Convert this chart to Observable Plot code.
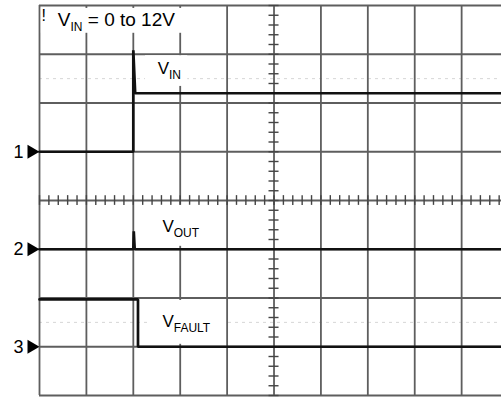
<!DOCTYPE html>
<html>
<head>
<meta charset="utf-8">
<script src="https://cdn.jsdelivr.net/npm/d3@7"></script>
<script src="https://cdn.jsdelivr.net/npm/@observablehq/plot@0.6"></script>
<style>
  html, body { margin: 0; padding: 0; background: #fff; overflow: hidden; }
  #chart svg { display: block; }
</style>
</head>
<body>
<div id="chart"></div>
<script>
// Scope screen: 10 horizontal divisions (the last one runs off the right edge), 8 vertical ones.
const timeEnd = 9.85;

// Channel setup: ground marker level (divisions from centre) and sensitivity (V/div)
const channelNames = ["1", "2", "3"];
const channelGround = [1, -1, -3];
const channelVoltsPerDiv = [10, 10, 5];

// CH1: V_IN stepped from 0 to 12V at the trigger, with an inrush spike on the edge
const vinTime  = [0, 2.0, 2.0, 2.04, 9.85];
const vinVolts = [0, 0, 20.8, 12, 12];
// CH2: V_OUT stays off apart from a short glitch at the step
const voutTime  = [0, 2.0, 2.01, 2.03, 9.85];
const voutVolts = [0, 0, 3.7, 0, 0];
// CH3: V_FAULT pulled low just after the step
const vfaultTime  = [0, 2.1, 2.1, 9.85];
const vfaultVolts = [4.85, 4.85, 0, 0];

// Heading annotation and trace labels ("_{...}" marks a subscript); anchored at the baseline start
const headingText = "V_{IN} = 0 to 12V";
const headingTime = 0.39;
const headingLevel = 3.57;
const traceLabelText  = ["V_{IN}", "V_{OUT}", "V_{FAULT}"];
const traceLabelTime  = [2.52, 2.62, 2.62];
const traceLabelLevel = [2.585, -0.656, -2.605];
// White backing boxes behind the annotations (time/level extents, in divisions)
const boxTime1  = [0.04, 2.26, 2.32, 2.32];
const boxTime2  = [3.2, 3.16, 3.56, 3.95];
const boxLevel1 = [3.94, 2.97, -0.10, -2.05];
const boxLevel2 = [3.43, 2.34, -0.94, -2.95];

// ---- build tables from the arrays ----
const traces = [
  {name: "VIN", ch: 0, t: vinTime, v: vinVolts},
  {name: "VOUT", ch: 1, t: voutTime, v: voutVolts},
  {name: "VFAULT", ch: 2, t: vfaultTime, v: vfaultVolts}
].flatMap(s => s.t.map((t, i) => ({
  name: s.name,
  t,
  div: channelGround[s.ch] + s.v[i] / channelVoltsPerDiv[s.ch]
})));

const channels = channelNames.map((name, i) => ({name, level: channelGround[i]}));
const heading = [{text: headingText, t: headingTime, level: headingLevel}];
const traceLabels = traceLabelText.map((text, i) => ({text, t: traceLabelTime[i], level: traceLabelLevel[i]}));
const boxes = boxTime1.map((x1, i) => ({x1, x2: boxTime2[i], y1: boxLevel1[i], y2: boxLevel2[i]}));

const majorX = d3.range(0, 10);
const majorY = d3.range(-4, 5);
const minorX = d3.range(0, 50).map(i => i / 5).filter(v => v <= timeEnd);
const minorY = d3.range(-20, 21).map(i => i / 5);
const faintY = [2.5, -2.5];

const tickHalfX = 0.107; // half length of the centre-axis ticks, in time divisions
const tickHalfY = 0.10;  // same, in vertical divisions

const gridColor = "#5e5e5e";
const ink = "#111";

const chart = Plot.plot({
  width: 501,
  height: 397,
  marginLeft: 39,
  marginRight: 0,
  marginTop: 5,
  marginBottom: 2,
  style: {fontFamily: "'Liberation Sans', Arial, Helvetica, sans-serif", background: "#fff"},
  x: {domain: [0, timeEnd], axis: null},
  y: {domain: [-4, 4], axis: null},
  marks: [
    // faint reference dashes
    Plot.ruleY(faintY, {y: d => d, stroke: "#d6d6d6", strokeWidth: 1, strokeDasharray: "3,4"}),
    // graticule
    Plot.ruleX(majorX, {x: d => d, stroke: gridColor, strokeWidth: 1.8}),
    Plot.ruleY(majorY, {y: d => d, stroke: gridColor, strokeWidth: 1.8}),
    // minor ticks along the centre axes
    Plot.ruleY(minorY, {y: d => d, x1: 5 - tickHalfX, x2: 5 + tickHalfX, stroke: "#444", strokeWidth: 1.4}),
    Plot.ruleX(minorX, {x: d => d, y1: -tickHalfY, y2: tickHalfY, stroke: "#444", strokeWidth: 1.4}),
    // label backgrounds
    Plot.rect(boxes, {x1: "x1", x2: "x2", y1: "y1", y2: "y2", fill: "#fff"}),
    // traces
    Plot.line(traces, {x: "t", y: "div", z: "name", stroke: ink, strokeWidth: 2.7, strokeLinejoin: "miter"}),
    // channel ground markers
    Plot.dot(channels, {x: 0, y: "level", symbol: "triangle", rotate: 90, r: 5.14, dx: -8, fill: "#000", stroke: null}),
    Plot.text(channels, {x: 0, y: "level", text: "name", dx: -16, textAnchor: "end", fontSize: 18, fill: "#000"}),
    // warning glyph
    Plot.text(["!"], {x: 0, y: 4, text: d => d, dx: 2, dy: 4, textAnchor: "start", lineAnchor: "top", fontSize: 16, fill: "#000"}),
    // annotations
    Plot.text(heading, {x: "t", y: "level", text: "text", fontSize: 19, textAnchor: "start", lineAnchor: "bottom", fill: "#000"}),
    Plot.text(traceLabels, {x: "t", y: "level", text: "text", fontSize: 17, textAnchor: "start", lineAnchor: "bottom", fill: "#000"})
  ]
});

// Turn "_{...}" into subscript tspans
const subShift = 5;
const subSize = 12;
d3.select(chart).selectAll("text").each(function () {
  const s = this.textContent;
  if (!s.includes("_{")) return;
  const parts = s.split(/(_\{[^}]*\})/).filter(p => p !== "");
  const sel = d3.select(this);
  sel.text(null);
  let lowered = false;
  for (const p of parts) {
    const m = p.match(/^_\{(.*)\}$/);
    if (m) {
      sel.append("tspan").attr("dy", subShift).attr("font-size", subSize).text(m[1]);
      lowered = true;
    } else {
      const t = sel.append("tspan").text(p);
      if (lowered) { t.attr("dy", -subShift); lowered = false; }
    }
  }
});

document.getElementById("chart").append(chart);
</script>
</body>
</html>
